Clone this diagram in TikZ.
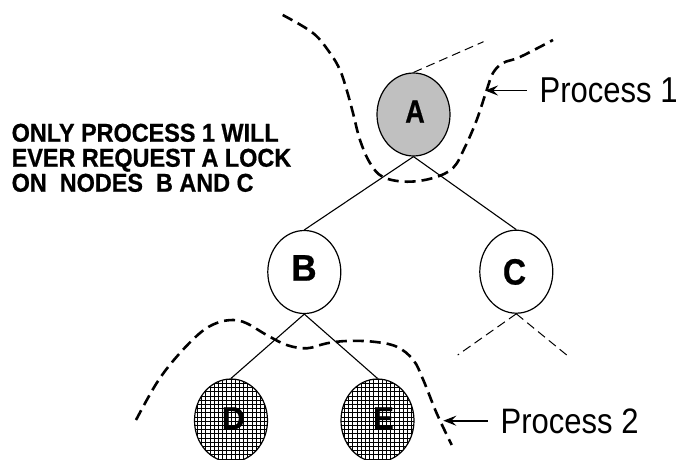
\documentclass[tikz,border=0pt]{standalone}
\usepackage{fontspec}
\setmainfont{Liberation Sans}
\newfontfamily\heavy{Liberation Sans}[FakeBold=0.7]
\usepackage{graphicx}
\usetikzlibrary{shapes.geometric,arrows.meta,patterns}
\pgfdeclarepatternformonly{fourgrid}{\pgfqpoint{-1pt}{-1pt}}{\pgfqpoint{5pt}{5pt}}{\pgfqpoint{4.2pt}{4.2pt}}{%
  \pgfsetlinewidth{0.85pt}%
  \pgfpathmoveto{\pgfqpoint{0pt}{-0.6pt}}\pgfpathlineto{\pgfqpoint{0pt}{4.8pt}}%
  \pgfpathmoveto{\pgfqpoint{-0.6pt}{0pt}}\pgfpathlineto{\pgfqpoint{4.8pt}{0pt}}%
  \pgfusepath{stroke}}
\newcommand{\stx}[3]{{\fontsize{#1pt}{#1pt}\selectfont\scalebox{1}[#2]{#3}}}
\definecolor{agray}{RGB}{192,192,192}
\begin{document}
\begin{tikzpicture}[x=1pt,y=-1pt,
  tnode/.style={draw, line width=1.2pt, ellipse, minimum width=73pt, minimum height=83pt, inner sep=0pt},
  letter/.style={font=\heavy\bfseries, inner sep=0pt, anchor=base},
  edge/.style={line width=1.1pt},
  thindash/.style={line width=1pt, dash pattern=on 9pt off 5pt},
  boundary/.style={line width=2.6pt, dash pattern=on 11pt off 6pt},
  parrow/.style={line width=1.9pt, -{Stealth[length=13pt,width=10pt,inset=5pt]}},
  lab/.style={inner sep=0pt, anchor=base west}]
\useasboundingbox (0,0) rectangle (678,459);

% tree nodes
\node[tnode, fill=agray] (A) at (413.5,114.5) {};
\node[tnode] (B) at (304.3,272) {};
\node[tnode] (C) at (516.3,271.7) {};
\node[tnode, pattern=fourgrid] (D) at (231,420.5) {};
\node[tnode, pattern=fourgrid] (E) at (377.5,420.5) {};

% letters
\node[letter] (la) at (415,122.7) {\stx{27}{1.2}{A}};
\node[letter] (lb) at (304,280.7) {\stx{35}{1.06}{B}};
\node[letter] (lc) at (514.5,284.5) {\stx{32}{1.14}{C}};
\node[letter] (ld) at (233.5,429.3) {\stx{32}{1.0}{D}};
\node[letter] (le) at (383.5,429.3) {\stx{31}{1.03}{E}};

% edges
\draw[edge] (A.south) -- (B.north);
\draw[edge] (A.south) -- (C.north);
\draw[edge] (B.south) -- (D.north);
\draw[edge] (B.south) -- (E.north);

% dashed stubs
\coordinate (ap) at (483.5,41.7);
\coordinate (cl) at (457.7,355);
\coordinate (cr) at (566.7,355);
\draw[thindash] (A.north) -- (ap);
\draw[thindash] (C.south) -- (cl);
\draw[thindash] (C.south) -- (cr);

% process 1 boundary
\draw[boundary] plot[smooth, tension=0.6] coordinates {
  (282.7,15) (313,33) (330,53) (340,70) (346.7,90) (353,113) (360,140)
  (370,163) (383,177) (406.7,181.7) (433,178) (453,168) (465,147)
  (476.7,120) (486.7,90) (493,73) (503,63) (520,57) (553,40)};

% process 2 boundary
\draw[boundary] plot[smooth, tension=0.6] coordinates {
  (136,420) (156.7,383) (176.7,356.7) (200,333) (216.7,323) (233,320)
  (246.7,323.3) (266.7,335) (286.7,345) (306.7,348.3) (326.7,343.3)
  (346.7,341) (373.3,341.7) (396.7,346.7) (413.3,360) (423.3,380)
  (436.7,413.3) (451.7,445)};

% process labels and arrows
\node[lab] (p1) at (539.5,102.7) {\stx{31}{1.16}{Process 1}};
\node[lab] (p2) at (500.5,433) {\stx{31}{1.14}{Process 2}};
\coordinate (h1) at (485,90.5);
\coordinate (h2) at (443.3,420.7);
\draw[parrow] ([xshift=-13pt]p1.west |- h1) -- (h1);
\draw[parrow] ([xshift=-13pt]p2.west |- h2) -- (h2);

% note
\node[lab, font=\heavy\bfseries] (n1) at (11.5,141.7) {\stx{23.4}{1.1}{ONLY PROCESS 1 WILL}};
\node[lab, font=\heavy\bfseries] (n2) at (11.5,166.7) {\stx{23.4}{1.1}{EVER REQUEST A LOCK}};
\node[lab, font=\heavy\bfseries] (n3) at (11.5,191.7) {\stx{23.4}{1.1}{ON\ \ NODES\ \ B AND C}};
\end{tikzpicture}
\end{document}
